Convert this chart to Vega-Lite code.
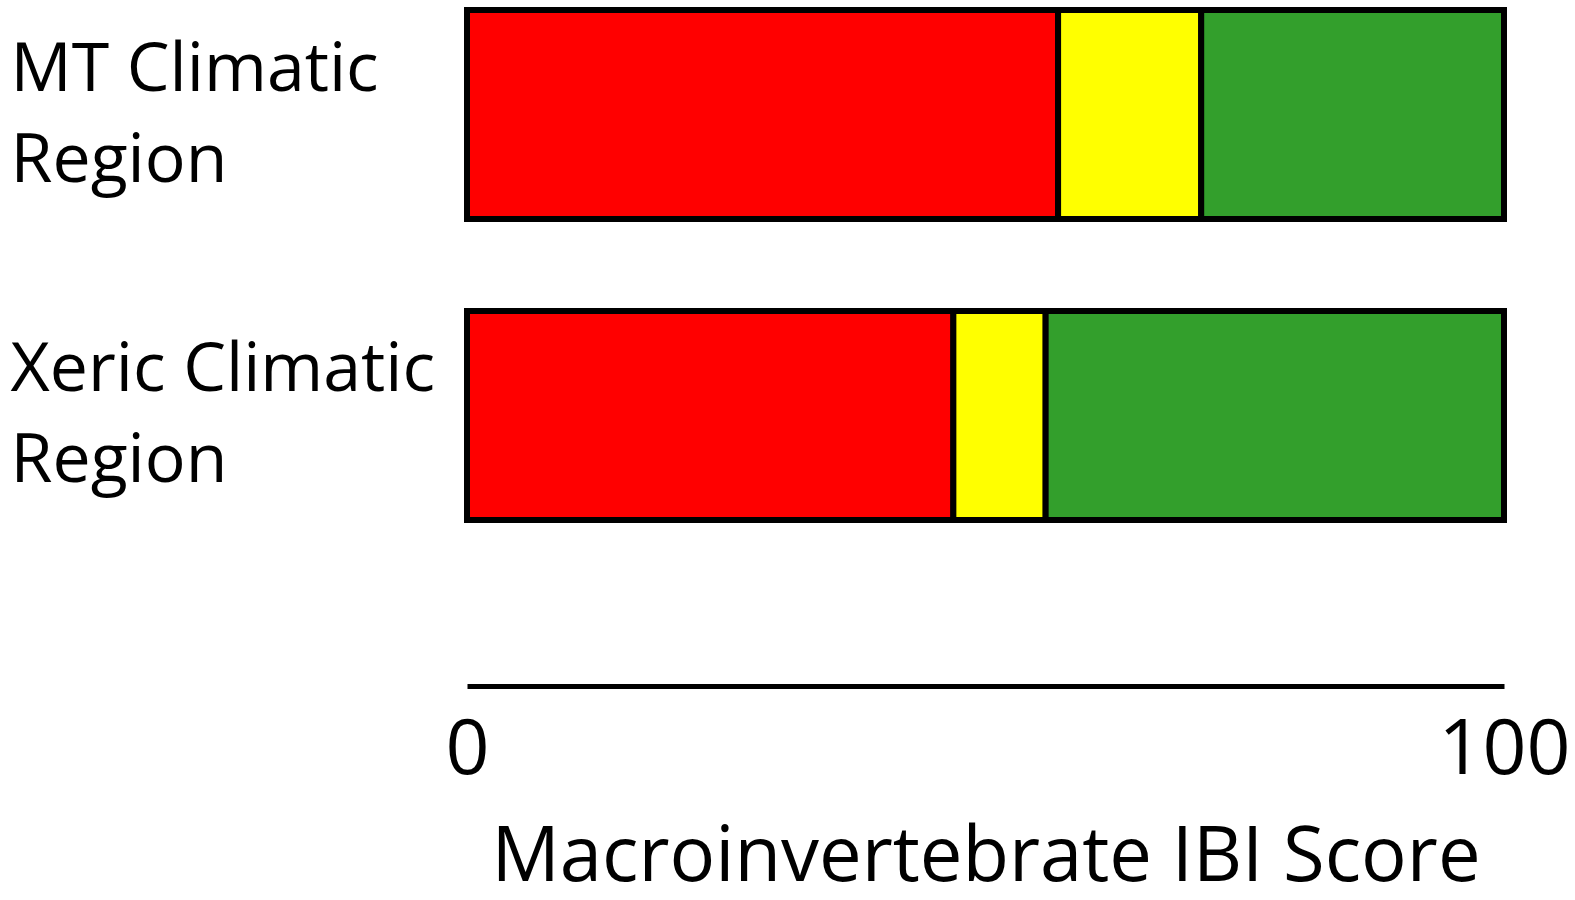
{
  "$schema": "https://vega.github.io/schema/vega-lite/v6.json",
  "width": 1037,
  "height": 530,
  "autosize": {"type": "none"},
  "padding": {"left": 467, "top": 0, "right": 71, "bottom": 370},
  "background": "white",
  "config": {
    "view": {"stroke": null},
    "font": "Open Sans"
  },
  "data": {
    "values": [
      {"region": "MT Climatic Region", "rating": "Poor", "start": 0, "end": 57},
      {"region": "MT Climatic Region", "rating": "Fair", "start": 57, "end": 70.8},
      {"region": "MT Climatic Region", "rating": "Good", "start": 70.8, "end": 100},
      {"region": "Xeric Climatic Region", "rating": "Poor", "start": 0, "end": 46.9},
      {"region": "Xeric Climatic Region", "rating": "Fair", "start": 46.9, "end": 55.8},
      {"region": "Xeric Climatic Region", "rating": "Good", "start": 55.8, "end": 100}
    ]
  },
  "mark": {"type": "bar", "stroke": "black", "strokeWidth": 6, "strokeJoin": "miter"},
  "encoding": {
    "y": {
      "field": "region",
      "type": "nominal",
      "sort": ["MT Climatic Region", "Xeric Climatic Region"],
      "scale": {"paddingInner": 0.306, "paddingOuter": 0.0334},
      "axis": {
        "title": null,
        "domain": false,
        "ticks": false,
        "labelAlign": "left",
        "labelBaseline": "alphabetic",
        "labelPadding": 457,
        "labelOffset": -24,
        "labelFontSize": 68,
        "labelLineHeight": 91,
        "labelColor": "black",
        "labelLimit": 0,
        "labelFont": "Open Sans",
        "labelExpr": "[replace(datum.label, ' Region', ''), 'Region']"
      }
    },
    "x": {
      "field": "start",
      "type": "quantitative",
      "scale": {"domain": [0, 100], "nice": false, "zero": true},
      "axis": {
        "title": "Macroinvertebrate IBI Score",
        "values": [0, 100],
        "offset": 156,
        "grid": false,
        "ticks": false,
        "domainColor": "black",
        "domainWidth": 5,
        "labelFontSize": 77,
        "labelColor": "black",
        "labelPadding": 26,
        "labelFont": "Open Sans",
        "labelFlush": false,
        "titleFontSize": 76,
        "titleFontWeight": "normal",
        "titleColor": "black",
        "titleFont": "Open Sans",
        "titlePadding": 32
      }
    },
    "x2": {"field": "end"},
    "color": {
      "field": "rating",
      "type": "nominal",
      "scale": {"domain": ["Poor", "Fair", "Good"], "range": ["#ff0000", "#ffff00", "#339f2c"]},
      "legend": null
    }
  }
}
